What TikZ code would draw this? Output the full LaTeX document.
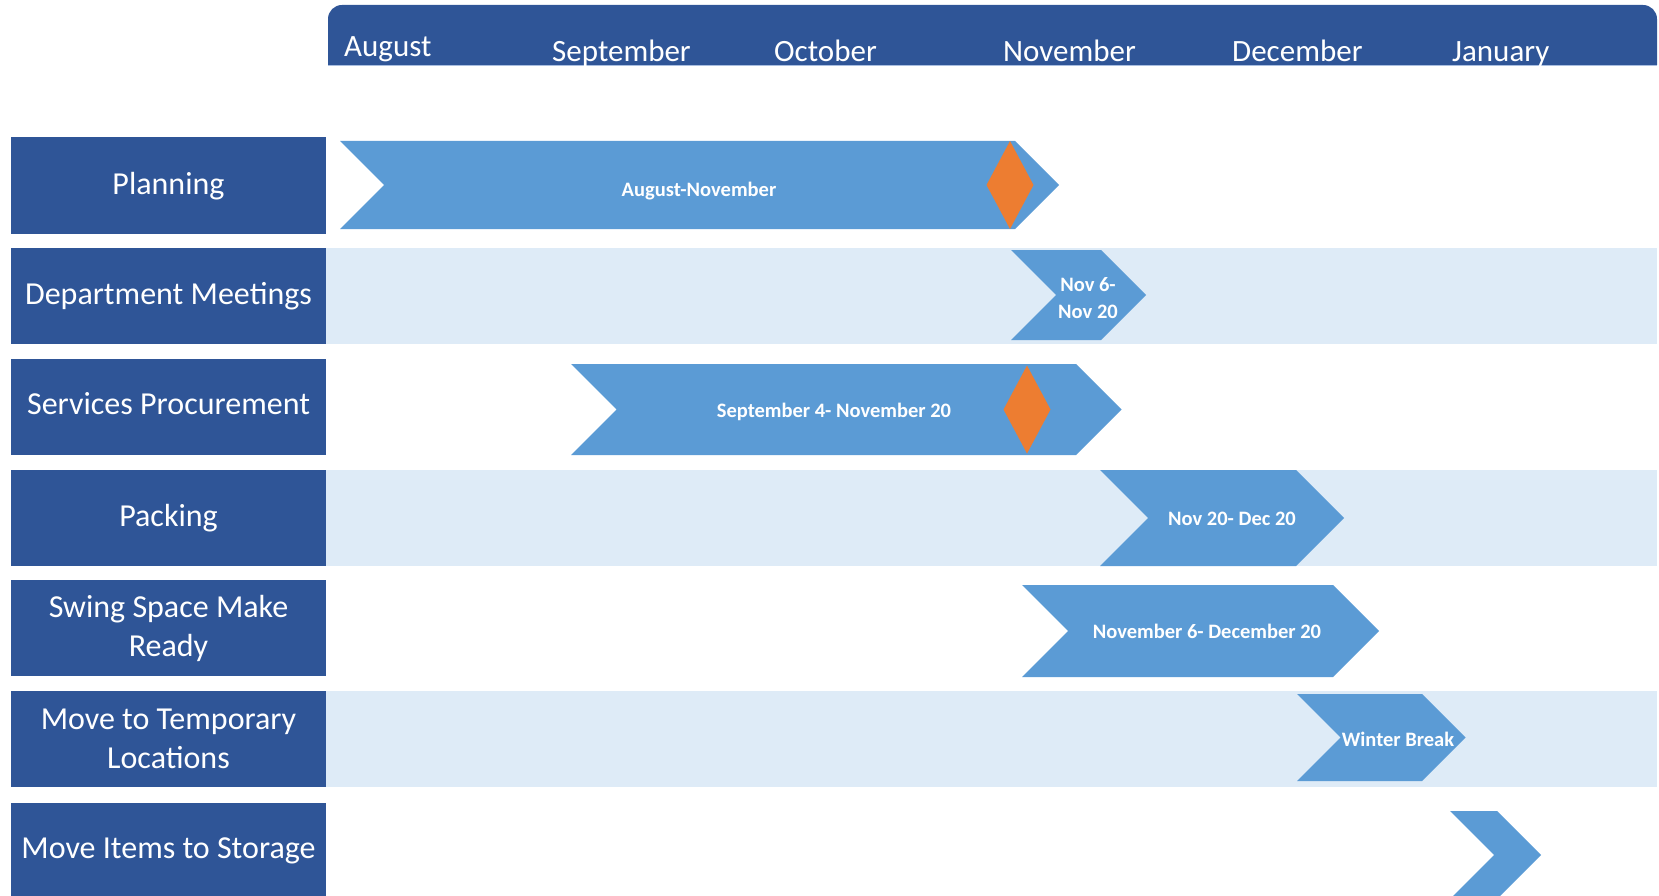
\documentclass[tikz,border=0pt]{standalone}
\usepackage{fontspec}
\setmainfont{Carlito}
\definecolor{hdr}{HTML}{2F5597}
\definecolor{chev}{HTML}{5B9BD5}
\definecolor{band}{HTML}{DEEBF7}
\definecolor{orn}{HTML}{ED7D31}
\definecolor{hline}{HTML}{A9BEE0}
\newcommand{\chevpath}[4]{% left, top, shoulder, bottom
  \pgfmathsetmacro{\cd}{(#4-#2)/2}%
  \pgfmathsetmacro{\cm}{(#4+#2)/2}%
  \fill[chev] (#1,#2) -- (#3,#2) -- ({#3+\cd},\cm) -- (#3,#4) -- (#1,#4) -- ({#1+\cd},\cm) -- cycle;}
\newcommand{\diam}[3]{% cx, cy, halfheight
  \fill[orn] (#1,{#2-#3}) -- ({#1+23.5},#2) -- (#1,{#2+#3}) -- ({#1-23.5},#2) -- cycle;}
\begin{document}
\begin{tikzpicture}[x=1pt,y=-1pt,
  rowbox/.style={fill=hdr,text=white,minimum width=315pt,minimum height=96.5pt,inner sep=0pt,align=center,font=\fontsize{32}{39}\selectfont},
  month/.style={text=white,anchor=base west,inner sep=0pt,font=\fontsize{31}{37}\selectfont},
  chevlab/.style={text=white,align=center,inner sep=0pt,font=\bfseries\fontsize{20.5}{26.5}\selectfont}]
\useasboundingbox (0,0) rectangle (1659,896);
% header
\fill[hdr] (328,65) {[rounded corners=14pt] -- (328,5) -- (1657,5)} -- (1657,65) -- cycle;
\draw[hline,line width=1.2pt] (328,65.5) -- (1657,65.5);
\node[month] (m1) at (344,57) {August};
\node[month] (m2) at (552,62) {September};
\node[month] (m3) at (774,62) {October};
\node[month] (m4) at (1003,62) {November};
\node[month] (m5) at (1232,62) {December};
\node[month] (m6) at (1452,62) {January};
% bands
\fill[band] (326,247.6) rectangle (1657,344.1);
\fill[band] (326,469.8) rectangle (1657,566.3);
\fill[band] (326,690.9) rectangle (1657,787.4);
% row labels
\node[rowbox] (r1) at (168.5,185.75) {Planning};
\node[rowbox] (r2) at (168.5,295.85) {Department Meetings};
\node[rowbox] (r3) at (168.5,406.95) {};
\node[text=white,font=\fontsize{32}{39}\selectfont,inner sep=0pt] (r3t) at (168.5,403.5) {Services Procurement};
\node[rowbox] (r4) at (168.5,518.05) {Packing};
\node[rowbox] (r5) at (168.5,628.05) {Swing Space Make\\Ready};
\node[rowbox] (r6) at (168.5,739.15) {Move to Temporary\\Locations};
\node[rowbox] (r7) at (168.5,851.25) {Move Items to Storage};
% chevrons
\chevpath{340}{141}{1015}{229}
\diam{1010}{185}{44}
\chevpath{1011}{250}{1101}{340}
\chevpath{571}{364}{1076}{455}
\diam{1027}{409.5}{44}
\chevpath{1100}{470}{1296}{566}
\chevpath{1022}{585}{1333}{677}
\chevpath{1297}{694}{1422}{781}
\chevpath{1450}{811}{1497}{899}
% chevron labels
\node[chevlab] (c1) at (699,191) {August-November};
\node[chevlab] (c2) at (1088,298) {Nov 6-\\Nov 20};
\node[chevlab] (c3) at (834,412) {September 4- November 20};
\node[chevlab] (c4) at (1232,519) {Nov 20- Dec 20};
\node[chevlab] (c5) at (1207,631) {November 6- December 20};
\node[chevlab] (c6) at (1398,739) {Winter Break};
\end{tikzpicture}
\end{document}
